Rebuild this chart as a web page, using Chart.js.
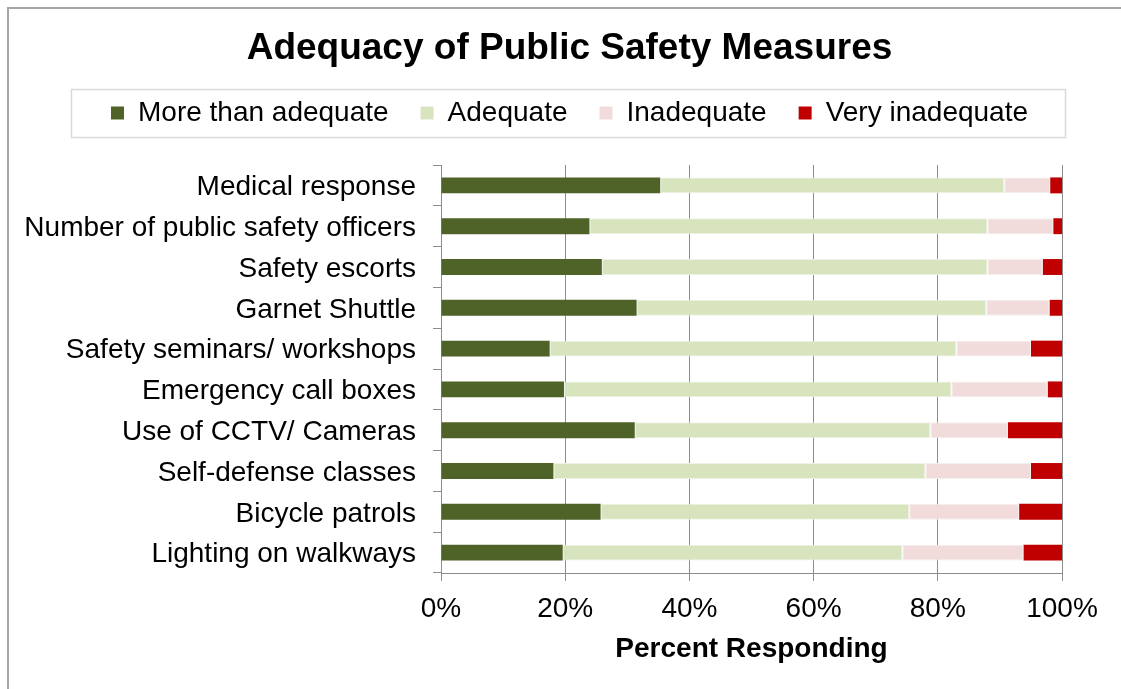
<!DOCTYPE html>
<html>
<head>
<meta charset="utf-8">
<script src="https://cdn.jsdelivr.net/npm/chart.js@4"></script>
<style>
  html, body { margin: 0; padding: 0; background: #fff; overflow: hidden; }
  #frame { position: absolute; left: 7px; top: 7px; width: 1200px; height: 700px; border: 2px solid #a6a6a6; }
  #wrap { position: absolute; left: 0; top: 0; width: 1121px; height: 689px; }
</style>
</head>
<body>
<div id="frame"></div>
<div id="wrap"><canvas id="safetyChart"></canvas></div>
<script>
// categories (top to bottom)
const measures = [
  'Medical response',
  'Number of public safety officers',
  'Safety escorts',
  'Garnet Shuttle',
  'Safety seminars/ workshops',
  'Emergency call boxes',
  'Use of CCTV/ Cameras',
  'Self-defense classes',
  'Bicycle patrols',
  'Lighting on walkways'
];

// percent responding
const moreThanAdequate = [35.3, 23.9, 25.9, 31.5, 17.5, 19.8, 31.2, 18.1, 25.7, 19.6];
const adequate         = [55.4, 64.1, 62.1, 56.3, 65.5, 62.4, 47.6, 59.9, 49.7, 54.7];
const inadequate       = [ 7.4, 10.6,  8.9, 10.2, 12.0, 15.5, 12.5, 17.0, 17.7, 19.5];
const veryInadequate   = [ 1.9,  1.4,  3.1,  2.0,  5.0,  2.3,  8.7,  5.0,  6.9,  6.2];

const xTicks = [0, 20, 40, 60, 80, 100];

const FONT = 'Arial, "Liberation Sans", sans-serif';
const GRID = '#8c8c8c';

// extra room between the legend and the plot
const legendGap = {
  id: 'legendGap',
  beforeInit(chart) {
    const fit = chart.legend.fit;
    chart.legend.fit = function () {
      fit.call(this);
      this.height += 28;
    };
  }
};

// light frame round the legend
const legendBox = {
  id: 'legendBox',
  afterDraw(chart) {
    const lg = chart.legend;
    const c = chart.ctx;
    c.save();
    c.strokeStyle = '#d9d9d9';
    c.lineWidth = 1.5;
    c.strokeRect(71.5, lg.top + 22.5, 994, 48);
    c.restore();
  }
};

const ds = (label, data, color, border) => ({
  label,
  data,
  backgroundColor: color,
  borderColor: border || color,
  borderWidth: border ? 1 : 0,
  borderSkipped: false,
  barPercentage: 0.39,
  categoryPercentage: 1
});

new Chart(document.getElementById('safetyChart'), {
  type: 'bar',
  data: {
    labels: measures,
    datasets: [
      ds('More than adequate', moreThanAdequate, '#4f6228'),
      ds('Adequate', adequate, '#d7e4bd', '#eef2e6'),
      ds('Inadequate', inadequate, '#f2dcdb', '#f4f0f0'),
      ds('Very inadequate', veryInadequate, '#c00000')
    ]
  },
  options: {
    indexAxis: 'y',
    responsive: true,
    maintainAspectRatio: false,
    animation: false,
    layout: { padding: { left: 18, right: 0, top: 0, bottom: 0 } },
    plugins: {
      title: {
        display: true,
        text: 'Adequacy of Public Safety Measures',
        color: '#000',
        font: { family: FONT, size: 37, weight: 'bold', lineHeight: 1 },
        padding: { top: 30, bottom: 0 }
      },
      legend: {
        display: true,
        position: 'top',
        labels: {
          color: '#000',
          font: { family: FONT, size: 28 },
          boxWidth: 13,
          boxHeight: 13,
          padding: 32
        }
      },
      tooltip: { enabled: false }
    },
    scales: {
      x: {
        stacked: true,
        min: 0,
        max: 100,
        afterBuildTicks: (scale) => { scale.ticks = xTicks.map(v => ({ value: v })); },
        afterFit: (scale) => { scale.height = 116; scale.paddingRight = 59; },
        ticks: {
          color: '#000',
          font: { family: FONT, size: 28 },
          padding: 11,
          callback: (v) => v + '%'
        },
        grid: { color: GRID, lineWidth: 1, tickLength: 8, drawOnChartArea: true, drawTicks: true },
        border: { display: true, color: GRID, width: 1 },
        title: {
          display: true,
          text: 'Percent Responding',
          color: '#000',
          font: { family: FONT, size: 28, weight: 'bold' },
          padding: { top: 4, bottom: 23 }
        }
      },
      y: {
        stacked: true,
        afterFit: (scale) => { scale.width = 441 - 18; },
        ticks: {
          color: '#000',
          font: { family: FONT, size: 28 },
          padding: 17,
          labelOffset: 2
        },
        grid: { color: GRID, lineWidth: 1, tickLength: 8, drawOnChartArea: false, drawTicks: true, offset: true },
        border: { display: true, color: GRID, width: 1 }
      }
    }
  },
  plugins: [legendGap, legendBox]
});
</script>
</body>
</html>
